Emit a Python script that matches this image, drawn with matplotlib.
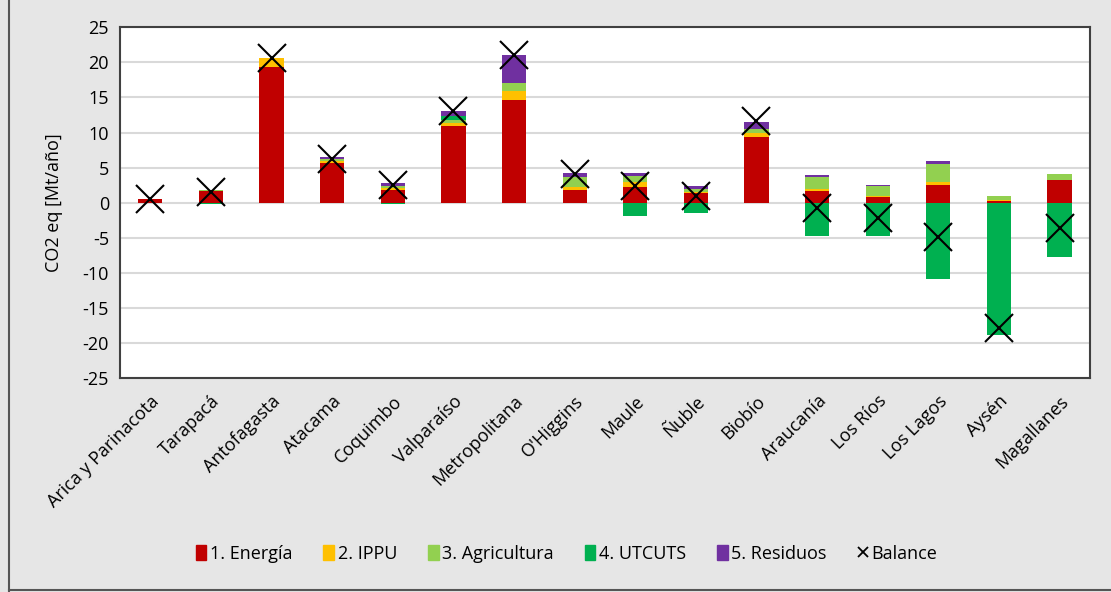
import matplotlib.pyplot as plt
import numpy as np
from matplotlib.patches import Patch
from matplotlib.lines import Line2D

plt.rcParams['font.family'] = ['Open Sans', 'DejaVu Sans']
plt.rcParams['axes.unicode_minus'] = False

regiones = ["Arica y Parinacota", "Tarapacá", "Antofagasta", "Atacama", "Coquimbo",
            "Valparaíso", "Metropolitana", "O'Higgins", "Maule", "Ñuble", "Biobío",
            "Araucanía", "Los Ríos", "Los Lagos", "Aysén", "Magallanes"]

energia = [0.5, 1.7, 19.4, 5.6, 1.8, 11.0, 14.7, 1.8, 2.3, 1.4, 9.3, 1.7, 0.8, 2.6, 0.3, 3.2]
ippu = [0.0, 0.0, 1.2, 0.4, 0.3, 0.3, 1.2, 0.4, 0.6, 0.1, 0.6, 0.3, 0.1, 0.3, 0.1, 0.0]
agricultura = [0.0, 0.1, 0.0, 0.3, 0.3, 0.5, 1.2, 1.5, 0.9, 0.5, 0.6, 1.7, 1.5, 2.6, 0.6, 0.9]
utcuts_pos = [0.0, 0.0, 0.0, 0.0, 0.0, 0.5, 0.0, 0.0, 0.0, 0.0, 0.0, 0.0, 0.0, 0.0, 0.0, 0.0]
utcuts_neg = [0.0, -0.2, 0.0, 0.0, -0.2, 0.0, 0.0, -0.1, -1.9, -1.5, -0.1, -4.8, -4.8, -10.8, -18.9, -7.7]
residuos = [0.0, 0.0, 0.0, 0.2, 0.4, 0.8, 3.9, 0.5, 0.5, 0.4, 1.0, 0.3, 0.2, 0.4, 0.0, 0.0]
balance = [0.5, 1.6, 20.6, 6.3, 2.5, 13.1, 21.0, 4.1, 2.4, 0.9, 11.6, -0.8, -2.2, -4.9, -17.9, -3.6]

c_energia = '#C00000'
c_ippu = '#FFC000'
c_agri = '#92D050'
c_utcuts = '#00B050'
c_res = '#7030A0'

fig = plt.figure(figsize=(11.11, 5.92), dpi=100, facecolor='#E6E6E6')
ax = fig.add_axes([0.108, 0.361, 0.873, 0.593])

x = np.arange(len(regiones))
w = 0.4
bottom = np.zeros(len(regiones))
for vals, col in [(energia, c_energia), (ippu, c_ippu), (agricultura, c_agri),
                  (utcuts_pos, c_utcuts), (residuos, c_res)]:
    ax.bar(x, vals, w, bottom=bottom, color=col, zorder=2)
    bottom += np.array(vals)
ax.bar(x, utcuts_neg, w, color=c_utcuts, zorder=2)

ax.plot(x, balance, 'x', color='black', ms=20, mew=1.5, zorder=3)

ax.set_xlim(-0.5, len(regiones) - 0.5)
ax.set_ylim(-25, 25)
ax.set_yticks(np.arange(-25, 26, 5))
ax.yaxis.grid(True, color='#D9D9D9', lw=1.5, zorder=0)
ax.set_axisbelow(True)
ax.tick_params(axis='y', length=0, labelsize=13, pad=8)
ax.tick_params(axis='x', length=0, labelsize=13, pad=10)
ax.set_xticks(x)
ax.set_xticklabels(regiones, rotation=45, ha='right', rotation_mode='anchor')
ax.set_ylabel('CO2 eq [Mt/año]', fontsize=13, labelpad=14)
for s in ax.spines.values():
    s.set_color('#404040')
    s.set_linewidth(1.5)

handles = [Patch(color=c_energia, label='1. Energía'),
           Patch(color=c_ippu, label='2. IPPU'),
           Patch(color=c_agri, label='3. Agricultura'),
           Patch(color=c_utcuts, label='4. UTCUTS'),
           Patch(color=c_res, label='5. Residuos'),
           Line2D([], [], marker='x', color='black', ls='none', ms=7, mew=1.3, label='Balance')]
fig.legend(handles=handles, loc='center', bbox_to_anchor=(0.51, 0.065), ncol=6,
           frameon=False, fontsize=13, handlelength=0.6, handleheight=0.9,
           handletextpad=0.2, columnspacing=1.7)

fig.add_artist(Line2D([0.008, 0.008], [0, 1], color='#555555', lw=1.5))
fig.add_artist(Line2D([0.008, 1], [0.003, 0.003], color='#555555', lw=1.5))

fig.savefig('out.png', dpi=100, facecolor=fig.get_facecolor())
